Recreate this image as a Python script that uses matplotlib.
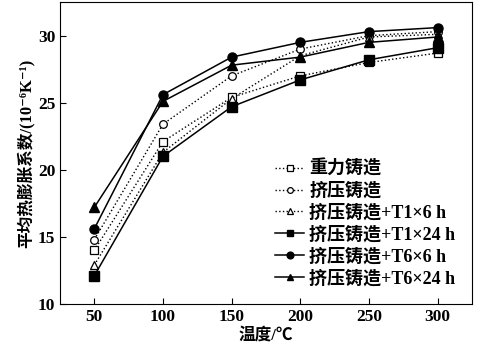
import matplotlib
matplotlib.use("Agg")
import matplotlib.pyplot as plt

plt.rcParams['font.family'] = ['Liberation Serif', 'Noto Sans CJK SC', 'DejaVu Serif']
plt.rcParams['font.weight'] = 'bold'
plt.rcParams['axes.labelweight'] = 'bold'

# ---- Data
temps = [50, 100, 150, 200, 250, 300]

gravity = [14.0, 22.1, 25.4, 27.0, 28.0, 28.7]
squeeze = [14.8, 23.4, 27.0, 29.0, 30.0, 30.3]
t1_6h = [12.9, 21.3, 25.3, 28.5, 29.9, 30.1]
t1_24h = [12.1, 21.0, 24.7, 26.7, 28.2, 29.1]
t6_6h = [15.6, 25.6, 28.4, 29.5, 30.3, 30.6]
t6_24h = [17.2, 25.1, 27.8, 28.4, 29.5, 29.9]

labels = ["重力铸造", "挤压铸造", "挤压铸造+T1×6 h",
          "挤压铸造+T1×24 h", "挤压铸造+T6×6 h", "挤压铸造+T6×24 h"]

fig = plt.figure(figsize=(4.8, 3.55), dpi=100)
ax = fig.add_axes([0.125, 0.144, 0.858, 0.850])

series = [gravity, squeeze, t1_6h, t1_24h, t6_6h, t6_24h]
markers = ['s', 'o', '^', 's', 'o', '^']
for i, (vals, mk, lab) in enumerate(zip(series, markers, labels)):
    if i < 3:
        ax.plot(temps, vals, ':', color='black', lw=1.0, marker=mk, ms=5.5,
                mfc='white', mec='black', mew=0.9, label=lab)
    else:
        ax.plot(temps, vals, '-', color='black', lw=1.1, marker=mk, ms=6.5,
                mfc='black', mec='black', label=lab)

ax.set_xlim(25, 325)
ax.set_ylim(10, 32.5)
ax.set_xticks([50, 100, 150, 200, 250, 300])
ax.set_yticks([10, 15, 20, 25, 30])
ax.tick_params(direction='in', length=4, labelsize=12.5, top=False, right=False)
for lab in ax.get_xticklabels() + ax.get_yticklabels():
    lab.set_fontweight('bold')

ax.set_xlabel("温度/℃", fontsize=12, labelpad=2)
ax.set_ylabel("平均热膨胀系数/(10⁻⁶K⁻¹)", fontsize=12, labelpad=2)

ax.legend(loc='lower right', frameon=False, fontsize=13, handlelength=1.6,
          handletextpad=0.3, labelspacing=0.25, borderaxespad=0.5,
          markerscale=0.75, bbox_to_anchor=(1.0, 0.0))

fig.savefig("out.png", dpi=100)
